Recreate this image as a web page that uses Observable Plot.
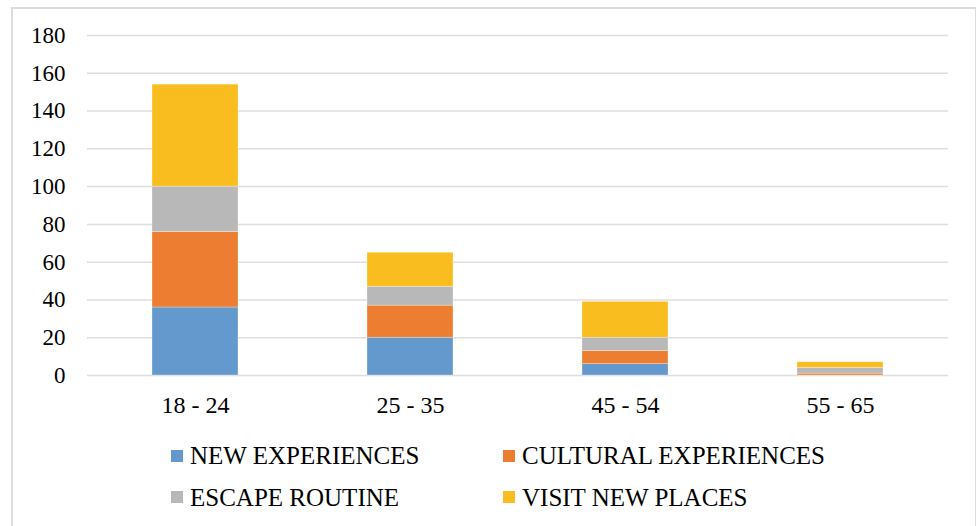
<!DOCTYPE html>
<html>
<head>
<meta charset="utf-8">
<script src="https://cdn.jsdelivr.net/npm/d3@7"></script>
<script src="https://cdn.jsdelivr.net/npm/@observablehq/plot@0.6"></script>
<style>
  html, body { margin: 0; padding: 0; background: #fff; }
  #frame {
    position: relative;
    width: 976px;
    height: 526px;
    overflow: hidden;
    font-family: "Liberation Serif", "Times New Roman", serif;
    color: #000;
  }
  #border {
    position: absolute;
    left: 11px;
    top: 7px;
    width: 962px;
    height: 530px;
    border: 2px solid #dcdcdc;
  }
  #chart { position: absolute; left: 0; top: 0; }
  .legend-item {
    position: absolute;
    display: flex;
    align-items: center;
    font-size: 25px;
    line-height: 1;
    white-space: nowrap;
  }
  .legend-item .swatch {
    width: 12px;
    height: 12px;
    margin-right: 7px;
    flex: none;
  }
</style>
</head>
<body>
<div id="frame">
  <div id="border"></div>
  <div id="chart"></div>
</div>
<script>
// Age groups along the x axis
const categories = ["18 - 24", "25 - 35", "45 - 54", "55 - 65"];

// Motivation series, stacked bottom to top in this order
const series = ["NEW EXPERIENCES", "CULTURAL EXPERIENCES", "ESCAPE ROUTINE", "VISIT NEW PLACES"];
const newExperiences = [36, 20, 6, 0];
const culturalExperiences = [40, 17, 7, 1];
const escapeRoutine = [24, 10, 7, 3];
const visitNewPlaces = [54, 18, 19, 3];

const yTicks = [0, 20, 40, 60, 80, 100, 120, 140, 160, 180];
const colors = ["#6399cc", "#ed7d31", "#b8b8b8", "#f9bd1f"];

// Long-form table for the stacked bars
const valuesBySeries = [newExperiences, culturalExperiences, escapeRoutine, visitNewPlaces];
const rows = [];
categories.forEach((cat, i) => {
  series.forEach((s, j) => {
    rows.push({ age: cat, series: s, value: valuesBySeries[j][i] });
  });
});

const font = '"Liberation Serif", "Times New Roman", serif';

const chart = Plot.plot({
  width: 976,
  height: 430,
  marginLeft: 87,
  marginRight: 28,
  marginTop: 35,
  marginBottom: 55,
  style: { fontFamily: font, color: "#000", background: "transparent", overflow: "visible" },
  x: { domain: categories, paddingInner: 0.6, paddingOuter: 0.3, label: null },
  y: { domain: [0, 180], ticks: yTicks, label: null },
  color: { domain: series, range: colors },
  marks: [
    Plot.ruleY(yTicks, { stroke: "#dedede", strokeWidth: 1.5 }),
    Plot.barY(rows, {
      x: "age",
      y: "value",
      fill: "series",
      stroke: "#ffffff",
      strokeOpacity: 0.5,
      strokeWidth: 0.6
    }),
    Plot.axisY({ ticks: yTicks, tickSize: 0, tickPadding: 22, fontSize: 23, label: null, tickFormat: d => String(d) }),
    Plot.axisX({ tickSize: 0, tickPadding: 20, fontSize: 24, label: null })
  ]
});
document.getElementById("chart").appendChild(chart);

// Two-column legend below the plot
const legendSlots = [
  { left: 171, top: 455.5 },
  { left: 503, top: 455.5 },
  { left: 171, top: 497 },
  { left: 503, top: 497 }
];
const frame = document.getElementById("frame");
series.forEach((s, i) => {
  const item = document.createElement("div");
  item.className = "legend-item";
  item.style.left = legendSlots[i].left + "px";
  item.style.top = (legendSlots[i].top - 14) + "px";
  item.style.height = "28px";
  const sw = document.createElement("span");
  sw.className = "swatch";
  sw.style.background = colors[i];
  const label = document.createElement("span");
  label.textContent = s;
  item.appendChild(sw);
  item.appendChild(label);
  frame.appendChild(item);
});
</script>
</body>
</html>
